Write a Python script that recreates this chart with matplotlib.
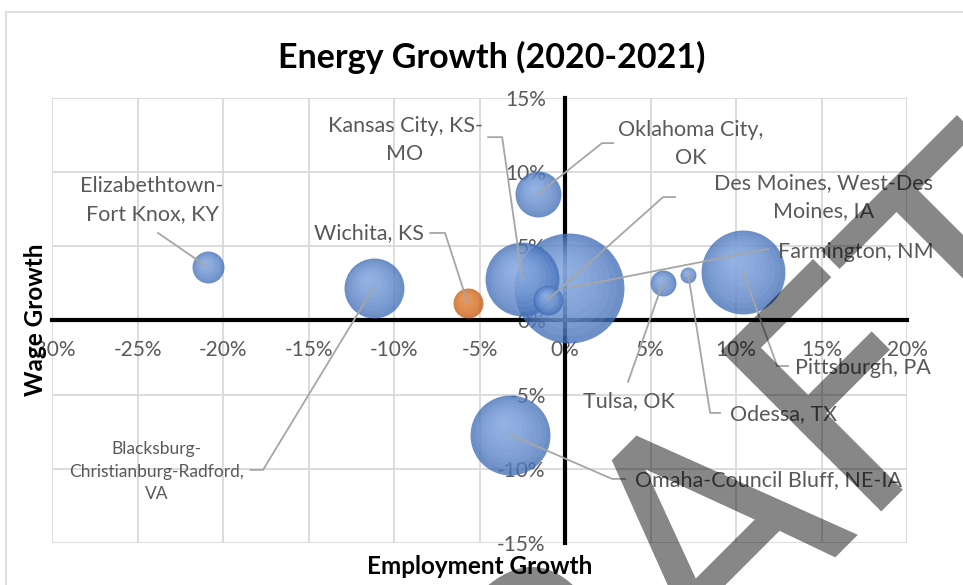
import numpy as np
import matplotlib
matplotlib.use("Agg")
import matplotlib.pyplot as plt
from matplotlib.ticker import FuncFormatter
from matplotlib.transforms import offset_copy, Affine2D
from matplotlib.patches import Rectangle, PathPatch
from matplotlib.textpath import TextPath
from matplotlib.font_manager import FontProperties

plt.rcParams['font.family'] = ['Lato', 'DejaVu Sans']

# data (percent)
cities = ["Elizabethtown-\nFort Knox, KY", "Blacksburg-\nChristianburg-Radford,\nVA",
          "Wichita, KS", "Kansas City, KS-\nMO", "Oklahoma City,\nOK",
          "Des Moines, West-Des\nMoines, IA", "Farmington, NM", "Tulsa, OK",
          "Odessa, TX", "Pittsburgh, PA", "Omaha-Council Bluff, NE-IA"]
emp_growth = [-20.9, -11.2, -5.7, -2.5, -1.6, -1.0, 0.2, 5.7, 7.2, 10.4, -3.2]
wage_growth = [3.6, 2.2, 1.2, 2.8, 8.5, 1.4, 2.2, 2.5, 3.1, 3.3, -7.7]
bubble_size = [256, 900, 225, 1369, 529, 225, 3025, 169, 64, 1764, 1600]
highlight = [False, False, True, False, False, False, False, False, False, False, False]

x_ticks = [-30, -25, -20, -15, -10, -5, 0, 5, 10, 15, 20]
y_ticks = [-15, -10, -5, 0, 5, 10, 15]

# label layout: text position, alignment, leader start, leader elbow
lab_pos = [(-24.15, 8.12), (-23.9, -10.21), (-11.46, 5.9), (-9.36, 12.16), (7.37, 11.89),
           (15.09, 8.32), (12.46, 4.62), (3.74, -5.42), (9.65, -6.3), (13.45, -3.2), (4.1, -10.75)]
lab_ha = ['center', 'center', 'center', 'center', 'center', 'center', 'left', 'center', 'left', 'left', 'left']
lead_start = [(-23.8, 5.9), (-18.4, -10.07), (-7.89, 5.9), (-4.5, 12.36), (2.81, 11.96),
              (6.43, 8.32), (11.87, 4.82), (3.68, -4.14), (9.06, -6.23), (13.04, -3.07), (3.51, -10.68)]
lead_elbow = [None, (-17.66, -10.07), (-7.02, 5.9), (-3.68, 12.36), (2.16, 11.96),
              (5.73, 8.32), None, None, (8.48, -6.23), (12.4, -3.07), (2.75, -10.68)]

fig = plt.figure(figsize=(9.63, 5.85), dpi=100)
ax = fig.add_axes([0.054, 0.0718, 0.888, 0.7607])

fig.patches.append(Rectangle((0.0062, -0.1), 1.2, 1.0795, transform=fig.transFigure,
                             fill=False, edgecolor='#d9d9d9', lw=1.2, zorder=0))

ax.set_xlim(-30, 20)
ax.set_ylim(-15, 15)
ax.set_xticks(x_ticks)
ax.set_yticks(y_ticks)
fmt = FuncFormatter(lambda v, p: f"{v:.0f}%")
ax.xaxis.set_major_formatter(fmt)
ax.yaxis.set_major_formatter(fmt)
ax.grid(True, color='#d9d9d9', lw=1.3, zorder=0)
ax.set_axisbelow(True)

for s in ['top', 'right']:
    ax.spines[s].set_visible(False)
ax.spines['left'].set_position('zero')
ax.spines['bottom'].set_position('zero')
for s in ['left', 'bottom']:
    ax.spines[s].set_linewidth(3)
    ax.spines[s].set_color('black')
    ax.spines[s].set_zorder(2)
ax.tick_params(length=0, labelsize=15, labelcolor='#595959')
ax.tick_params(axis='x', pad=14)
ax.tick_params(axis='y', pad=14)

# bubbles, biggest first, with a soft highlight toward the upper left
order = np.argsort(bubble_size)[::-1]
for i in order:
    s = bubble_size[i] * 2.07
    if highlight[i]:
        base, light = '#c55a11', '#f6a868'
    else:
        base, light = '#4470b8', '#a8c6f4'
    ax.scatter(emp_growth[i], wage_growth[i], s=s, color=base, alpha=0.78, lw=0, zorder=3)
    r_pt = np.sqrt(s) / 2
    n = 10
    for k in range(1, n):
        f = 1 - k / n
        tr = offset_copy(ax.transData, fig=fig, x=-0.2 * r_pt * (1 - f),
                         y=0.32 * r_pt * (1 - f), units='points')
        ax.scatter(emp_growth[i], wage_growth[i], s=s * f * f, color=light,
                   alpha=0.12, lw=0, zorder=3, transform=tr)

# data labels with leader lines
for i in range(len(cities)):
    fs = 12.5 if i == 1 else 15.5
    ax.text(lab_pos[i][0], lab_pos[i][1], cities[i], ha=lab_ha[i], va='center',
            multialignment='center', fontsize=fs, color='#595959', zorder=5,
            linespacing=1.5)
    xs = [lead_start[i][0]]
    ys = [lead_start[i][1]]
    if lead_elbow[i] is not None:
        xs.append(lead_elbow[i][0])
        ys.append(lead_elbow[i][1])
    xs.append(emp_growth[i])
    ys.append(wage_growth[i])
    ax.plot(xs, ys, color='#a6a6a6', lw=1.3, zorder=4)

fig.text(0.511, 0.902, "Energy Growth (2020-2021)", ha='center', va='center',
         fontsize=24.5, fontweight='bold', color='black')
fig.text(0.037, 0.453, "Wage Growth", ha='center', va='center', rotation=90,
         fontsize=17.5, fontweight='bold', color='black')
fig.text(0.498, 0.031, "Employment Growth", ha='center', va='center',
         fontsize=17.5, fontweight='bold', color='black')

# watermark: put the apex of the "A" where it sits in the picture
em = 311
wm = TextPath((0, 0), "DRAFT", size=em, prop=FontProperties(family='DejaVu Sans'))
v = wm.vertices
cap = v[:, 1].max()
top = v[(v[:, 1] > cap - 2) & (v[:, 0] > 1.6 * em) & (v[:, 0] < 2.0 * em)]
apex_x = top[:, 0].mean()
wm_tr = Affine2D().translate(-apex_x, -cap).rotate_deg(45).translate(620, 585 - 452)
fig.patches.append(PathPatch(wm, transform=wm_tr, facecolor='black', edgecolor='none',
                             alpha=0.47, zorder=10))

fig.savefig("out.png", dpi=100)
